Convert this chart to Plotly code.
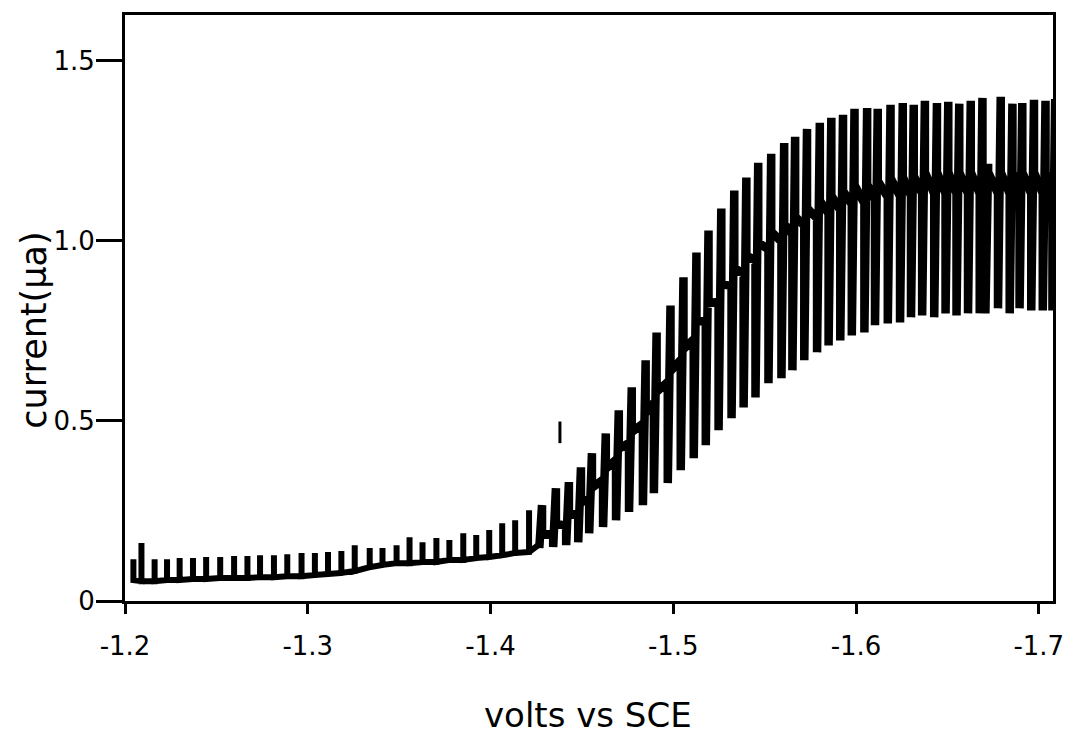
import plotly.graph_objects as go

# ---- data (one entry per mercury drop) ----
peak_v = [-1.2046, -1.2090, -1.2162, -1.2230, -1.2299, -1.2372, -1.2444, -1.2521, -1.2597, -1.2670,
          -1.2739, -1.2815, -1.2888, -1.2966, -1.3039, -1.3111, -1.3184, -1.3257, -1.3339, -1.3409,
          -1.3486, -1.3557, -1.3628, -1.3704, -1.3775, -1.3851, -1.3922, -1.3993, -1.4064, -1.4135,
          -1.4211, -1.4282, -1.4358, -1.4429, -1.4495, -1.4555, -1.4631, -1.4702, -1.4773, -1.4849,
          -1.4909, -1.4985, -1.5056, -1.5127, -1.5193, -1.5263, -1.5334, -1.5400, -1.5465, -1.5536,
          -1.5607, -1.5667, -1.5732, -1.5802, -1.5865, -1.5929, -1.5992, -1.6061, -1.6119, -1.6189,
          -1.6256, -1.6316, -1.6377, -1.6443, -1.6505, -1.6565, -1.6628, -1.6692, -1.6723, -1.6792,
          -1.6856, -1.6910, -1.6974, -1.7037, -1.7090]

trough_v = [-1.2046, -1.2090, -1.2162, -1.2230, -1.2299, -1.2372, -1.2444, -1.2521, -1.2597, -1.2670,
            -1.2739, -1.2815, -1.2888, -1.2966, -1.3039, -1.3111, -1.3184, -1.3257, -1.3339, -1.3409,
            -1.3486, -1.3557, -1.3628, -1.3704, -1.3775, -1.3851, -1.3922, -1.3993, -1.4064, -1.4135,
            -1.4211, -1.4267, -1.4343, -1.4414, -1.4480, -1.4540, -1.4616, -1.4687, -1.4758, -1.4834,
            -1.4894, -1.4970, -1.5041, -1.5112, -1.5178, -1.5248, -1.5319, -1.5385, -1.5450, -1.5521,
            -1.5592, -1.5652, -1.5717, -1.5787, -1.5850, -1.5914, -1.5977, -1.6046, -1.6104, -1.6174,
            -1.6241, -1.6301, -1.6362, -1.6428, -1.6490, -1.6550, -1.6613, -1.6677, -1.6708, -1.6777,
            -1.6841, -1.6895, -1.6959, -1.7022, -1.7075]

peak_ua = [0.116, 0.161, 0.116, 0.116, 0.119, 0.119, 0.122, 0.122, 0.125, 0.125,
           0.127, 0.127, 0.130, 0.133, 0.133, 0.136, 0.139, 0.155, 0.147, 0.147,
           0.155, 0.177, 0.163, 0.175, 0.169, 0.188, 0.183, 0.197, 0.216, 0.224,
           0.252, 0.266, 0.313, 0.330, 0.371, 0.410, 0.465, 0.529, 0.593, 0.668,
           0.745, 0.820, 0.898, 0.967, 1.028, 1.089, 1.139, 1.175, 1.216, 1.241,
           1.271, 1.288, 1.310, 1.327, 1.341, 1.349, 1.366, 1.368, 1.366, 1.377,
           1.382, 1.377, 1.388, 1.382, 1.385, 1.380, 1.388, 1.396, 1.213, 1.399,
           1.380, 1.382, 1.391, 1.388, 1.393]

trough_ua = [0.058, 0.055, 0.055, 0.058, 0.058, 0.061, 0.061, 0.064, 0.064, 0.064,
             0.066, 0.066, 0.069, 0.069, 0.072, 0.075, 0.078, 0.083, 0.094, 0.100,
             0.105, 0.105, 0.108, 0.108, 0.114, 0.114, 0.119, 0.122, 0.127, 0.133,
             0.136, 0.147, 0.150, 0.155, 0.163, 0.188, 0.205, 0.224, 0.247, 0.266,
             0.299, 0.327, 0.363, 0.396, 0.432, 0.474, 0.507, 0.537, 0.565, 0.604,
             0.618, 0.640, 0.668, 0.690, 0.709, 0.723, 0.737, 0.745, 0.765, 0.770,
             0.773, 0.787, 0.792, 0.787, 0.798, 0.792, 0.798, 0.798, 0.798, 0.812,
             0.798, 0.812, 0.806, 0.806, 0.806]

# upper / lower edge of the dark band where the pen lingers between drops
band_top_ua = [0.058, 0.055, 0.055, 0.058, 0.058, 0.061, 0.061, 0.064, 0.064, 0.064,
               0.066, 0.066, 0.069, 0.069, 0.072, 0.075, 0.078, 0.083, 0.094, 0.100,
               0.105, 0.105, 0.108, 0.108, 0.114, 0.114, 0.119, 0.122, 0.127, 0.133,
               0.136, 0.187, 0.214, 0.239, 0.273, 0.314, 0.367, 0.422, 0.469, 0.522,
               0.580, 0.638, 0.699, 0.776, 0.826, 0.881, 0.923, 0.959, 0.995, 1.025,
               1.047, 1.067, 1.091, 1.111, 1.125, 1.138, 1.154, 1.157, 1.166, 1.174,
               1.177, 1.180, 1.190, 1.190, 1.190, 1.190, 1.190, 1.190, 1.190, 1.190,
               1.190, 1.190, 1.190, 1.190, 1.190]

band_bot_ua = [0.058, 0.055, 0.055, 0.058, 0.058, 0.061, 0.061, 0.064, 0.064, 0.064,
               0.066, 0.066, 0.069, 0.069, 0.072, 0.075, 0.078, 0.083, 0.094, 0.100,
               0.105, 0.105, 0.108, 0.108, 0.114, 0.114, 0.119, 0.122, 0.127, 0.133,
               0.136, 0.157, 0.184, 0.209, 0.243, 0.284, 0.337, 0.392, 0.439, 0.492,
               0.550, 0.608, 0.669, 0.726, 0.776, 0.831, 0.873, 0.909, 0.945, 0.975,
               0.997, 1.017, 1.041, 1.061, 1.075, 1.084, 1.100, 1.103, 1.112, 1.120,
               1.123, 1.124, 1.130, 1.130, 1.130, 1.130, 1.130, 1.130, 1.130, 1.130,
               1.130, 1.130, 1.130, 1.130, 1.130]

mark_v = [-1.438, -1.438]
mark_ua = [0.438, 0.498]

x_tickvals = [-1.2, -1.3, -1.4, -1.5, -1.6, -1.7]
x_ticktext = ["-1.2", "-1.3", "-1.4", "-1.5", "-1.6", "-1.7"]
y_tickvals = [0, 0.5, 1.0, 1.5]
y_ticktext = ["0", "0.5", "1.0", "1.5"]

# ---- build the recorder trace ----
xs, ys = [], []
for xt, xp, hi, lo, bt, bb in zip(trough_v, peak_v, peak_ua, trough_ua, band_top_ua, band_bot_ua):
    xs += [xt, xt, xp, xp]
    ys += [bb, lo, hi, bt]

# thinner pen at the foot of the wave, heavier strokes on the wave itself
split = 4 * 31
fig = go.Figure()
fig.add_trace(go.Scatter(x=xs[:split + 1], y=ys[:split + 1], mode="lines",
                         line=dict(color="black", width=6),
                         hoverinfo="skip", showlegend=False))
fig.add_trace(go.Scatter(x=xs[split:], y=ys[split:], mode="lines",
                         line=dict(color="black", width=8.5),
                         hoverinfo="skip", showlegend=False))
fig.add_trace(go.Scatter(x=mark_v, y=mark_ua, mode="lines",
                         line=dict(color="black", width=3),
                         hoverinfo="skip", showlegend=False))

tick_font = dict(family="DejaVu Sans, Arial, sans-serif", size=26, color="black")
xtitle_font = dict(family="DejaVu Sans, sans-serif", size=34, color="black")
ytitle_font = dict(family="DejaVu Sans, sans-serif", size=35, color="black")

fig.update_layout(
    width=1076, height=737,
    margin=dict(l=125, r=20, t=14, b=136),
    paper_bgcolor="white", plot_bgcolor="white",
    showlegend=False,
    xaxis=dict(range=[-1.2, -1.7078], tickvals=x_tickvals, ticktext=x_ticktext,
               showline=True, linecolor="black", linewidth=3, mirror=True,
               ticks="outside", ticklen=10, tickwidth=3, tickcolor="black",
               showgrid=False, zeroline=False, tickfont=tick_font,
               ticklabelstandoff=10),
    yaxis=dict(range=[0, 1.626], tickvals=y_tickvals, ticktext=y_ticktext,
               showline=True, linecolor="black", linewidth=3, mirror=True,
               ticks="outside", ticklen=26, tickwidth=3, tickcolor="black",
               showgrid=False, zeroline=False, tickfont=tick_font,
               ticklabelstandoff=-4),
    annotations=[
        dict(text="volts vs SCE", xref="paper", yref="paper", x=0.499, y=-0.194,
             xanchor="center", yanchor="middle", showarrow=False, font=xtitle_font),
        dict(text="current(μa)", xref="paper", yref="paper", x=-0.0978, y=0.4617,
             xanchor="center", yanchor="middle", textangle=-90, showarrow=False,
             font=ytitle_font),
    ],
)

fig.write_html("out.html")
